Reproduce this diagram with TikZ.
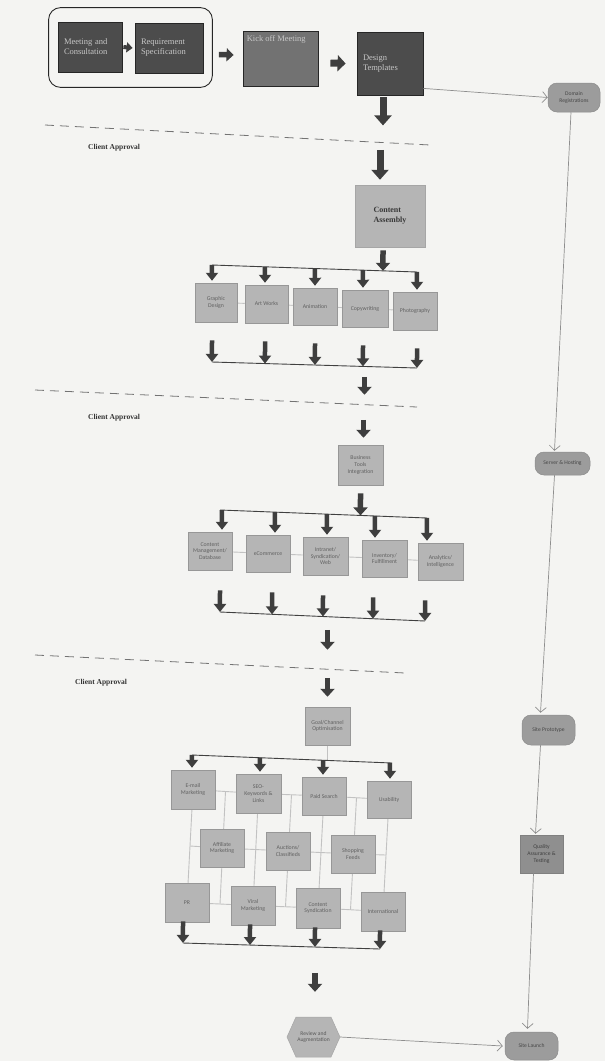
\documentclass[tikz,border=0pt]{standalone}
\usepackage{fontspec}
\setmainfont{Liberation Serif}
\newfontfamily\labelsans{Carlito}
\usetikzlibrary{arrows.meta,calc,fit,backgrounds}

\definecolor{paper}{HTML}{F4F4F2}
\definecolor{inkdark}{HTML}{3E3E3E}
\definecolor{boxdark}{HTML}{4C4C4C}
\definecolor{boxmid}{HTML}{727272}
\definecolor{boxlight}{HTML}{B5B5B5}
\definecolor{boxedge}{HTML}{979797}
\definecolor{linkgray}{HTML}{C2C2C2}
\definecolor{pillfill}{HTML}{9C9C9C}
\definecolor{flowgray}{HTML}{8E8E8E}
\definecolor{qafill}{HTML}{8F8F8F}

\tikzset{
  wh/.style 2 args={minimum width=#1, minimum height=#2},
  darkbox/.style={rectangle, draw=black!85, line width=0.8pt, fill=boxdark,
    text=black!22, font=\fontsize{8.5}{10}\selectfont, align=left, inner sep=2pt},
  stagebox/.style={rectangle, draw=black!35, line width=0.5pt, fill=boxlight,
    text=black!78, font=\bfseries\fontsize{8}{10}\selectfont, align=left, inner sep=2pt},
  task/.style={rectangle, draw=boxedge, line width=0.5pt, fill=boxlight,
    text=black!62, font=\labelsans\fontsize{5.8}{6.8}\selectfont, align=center, inner sep=1pt},
  pill/.style={rectangle, rounded corners=9pt, draw=black!45, line width=0.5pt, fill=pillfill,
    text=black!72, font=\labelsans\fontsize{5.6}{6.6}\selectfont, align=center, inner sep=1pt},
  bigarrow/.style={draw=inkdark, line width=7pt, -{Triangle[width=17pt,length=10pt]}},
  stagearrow/.style={draw=inkdark, line width=5.5pt, -{Triangle[width=14pt,length=8pt]}},
  midarrow/.style={draw=inkdark, line width=4.5pt, -{Triangle[width=12pt,length=8pt]}},
  bar/.style={draw=black!75, line width=0.9pt},
  link/.style={draw=linkgray, line width=0.9pt},
  flow/.style={draw=flowgray, line width=0.7pt, -{Straight Barb[length=5pt,width=11pt]}},
  gate/.style={draw=black!55, line width=0.8pt, dash pattern=on 9pt off 6pt},
  approval/.style={font=\bfseries\fontsize{7.5}{8}\selectfont, text=black!80, anchor=west, inner sep=0pt}
}

\begin{document}
\begin{tikzpicture}[x=1pt, y=-1pt]
\begin{scope}[on background layer]
  \fill[paper] (0,0) rectangle (605,1061);
\end{scope}
\useasboundingbox (0,0) rectangle (605,1061);

% ---------- intake and kick-off ----------
\node[darkbox, wh={64}{50}, text width=52] (meet) at (90,47) {Meeting and\\Consultation};
\node[darkbox, wh={68}{50}, text width=56] (req) at (169,48) {Requirement\\Specification};
\node[draw=black!85, line width=0.9pt, rounded corners=12pt, fit=(meet)(req),
      inner xsep=9pt, inner ysep=14pt] (intake) {};
\node[darkbox, fill=boxmid, wh={75}{55}] (kick) at (280.5,58.5) {};
\node[anchor=north west, text=black!22, font=\fontsize{8.5}{10}\selectfont, inner sep=0pt]
  (kicklbl) at ([xshift=4,yshift=-5]kick.north west) {Kick off Meeting};
\node[darkbox, wh={66}{63}, text width=54] (dt) at (390,63.5) {Design\\Templates};

\draw[draw=inkdark, line width=4pt, -{Triangle[width=10pt,length=6pt]}]
  ([xshift=1]meet.east) -- ([xshift=-2]req.west);
\draw[draw=inkdark, line width=5.5pt, -{Triangle[width=13pt,length=7pt]}]
  ([xshift=6,yshift=-7]intake.east) -- ([xshift=-9,yshift=3.5]kick.west);
\draw[draw=inkdark, line width=7pt, -{Triangle[width=16pt,length=8pt]}]
  ([xshift=12,yshift=-4.5]kick.east) -- ([xshift=-11]dt.west);

% ---------- first approval gate ----------
\coordinate (g1a) at (45,125);
\coordinate (g1b) at (430,145);
\draw[gate] (g1a) -- (g1b);
\node[approval] (ok1) at (88,148) {Client Approval};

\node[stagebox, wh={70}{62}] (ca) at (390,216) {Content\\Assembly};
\draw[bigarrow] ([xshift=-7,yshift=-2]dt.south) -- ([xshift=-7,yshift=-30]dt.south);
\draw[bigarrow] ([xshift=-10,yshift=35]ca.north) -- ([xshift=-10,yshift=5]ca.north);

% ---------- content production ----------
\node[task, wh={42}{39}] (gd) at (216,302.5) {Graphic\\Design};
\node[task, wh={43}{38}] (aw) at (266.5,304) {Art Works};
\node[task, wh={44}{37}] (an) at (315,306.5) {Animation};
\node[task, wh={46}{37}] (cw) at (365,308.5) {Copywriting};
\node[task, wh={44}{38}] (ph) at (415,311) {Photography};
\begin{scope}[on background layer]
  \draw[link] (gd) -- (aw);
  \draw[link] (aw) -- (an);
  \draw[link] (an) -- (cw);
  \draw[link] (cw) -- (ph);
\end{scope}

\coordinate (t1l) at (212,265);
\coordinate (t1r) at (417,272);
\draw[bar] (t1l) -- (t1r);
\coordinate (cap) at ([xshift=-7]ca.south);
\coordinate (caq) at ([xshift=-7,yshift=-60]ca.south);
\draw[stagearrow] ([xshift=-7,yshift=-3]ca.south) -- (intersection of t1l--t1r and cap--caq);
\foreach \n/\dx in {gd/-4, aw/-1.5, an/0, cw/-2, ph/2} {
  \coordinate (p) at ([xshift=\dx]\n.north);
  \coordinate (q) at ([xshift=\dx]\n.south);
  \draw[midarrow] (intersection of t1l--t1r and p--q) -- ([yshift=2]p);
}

\coordinate (b1l) at (212,362);
\coordinate (b1r) at (417,368);
\draw[bar] (b1l) -- (b1r);
\foreach \n/\dx in {gd/-4, aw/-1.5, an/0, cw/-2, ph/2} {
  \coordinate (p) at ([xshift=\dx]\n.north);
  \coordinate (q) at ([xshift=\dx]\n.south);
  \draw[midarrow] ([yshift=-18]q) -- (intersection of b1l--b1r and p--q);
}

% ---------- second approval gate ----------
\node[task, wh={45}{40}] (bti) at (360.5,465) {Business\\Tools\\Integration};
\draw[stagearrow] ([xshift=4,yshift=68]bti.north) -- ([xshift=4,yshift=50]bti.north);
\coordinate (g2a) at (35,390);
\coordinate (g2b) at (417,407);
\draw[gate] (g2a) -- (g2b);
\node[approval] (ok2) at (88,418) {Client Approval};
\draw[stagearrow] ([xshift=3,yshift=25]bti.north) -- ([xshift=3,yshift=7]bti.north);

% ---------- business tools ----------
\node[task, wh={44}{38}] (cm) at (210,551) {Content\\Management/\\Database};
\node[task, wh={44}{37}] (ec) at (268,553.5) {eCommerce};
\node[task, wh={45}{38}] (intra) at (325.5,556) {Intranet/\\Syndication/\\Web};
\node[task, wh={45}{37}] (iv) at (384.5,558.5) {Inventory/\\Fulfillment};
\node[task, wh={45}{37}] (anl) at (440.5,561.5) {Analytics/\\Intelligence};
\begin{scope}[on background layer]
  \draw[link] (cm) -- (ec);
  \draw[link] (ec) -- (intra);
  \draw[link] (intra) -- (iv);
  \draw[link] (iv) -- (anl);
\end{scope}

\coordinate (t2l) at (220,510);
\coordinate (t2r) at (427,518);
\draw[bar] (t2l) -- (t2r);
\draw[stagearrow] ([yshift=-8]bti.south) -- (intersection of t2l--t2r and bti.north--bti.south);
\foreach \n/\dx in {cm/12, ec/7, intra/1.5, iv/-9.5, anl/-13.5} {
  \coordinate (p) at ([xshift=\dx]\n.north);
  \coordinate (q) at ([xshift=\dx]\n.south);
  \draw[midarrow] (intersection of t2l--t2r and p--q) -- ([yshift=2]p);
}

\coordinate (b2l) at (220,612);
\coordinate (b2r) at (425,621);
\draw[bar] (b2l) -- (b2r);
\foreach \n/\dx in {cm/10, ec/4, intra/-2.5, iv/-11.5, anl/-15.5} {
  \coordinate (p) at ([xshift=\dx]\n.north);
  \coordinate (q) at ([xshift=\dx]\n.south);
  \draw[midarrow] ([yshift=-20]q) -- (intersection of b2l--b2r and p--q);
}

% ---------- third approval gate ----------
\node[task, wh={45}{38}] (goal) at (327.5,726) {Goal/Channel\\Optimisation};
\draw[stagearrow] ([yshift=77]goal.north) -- ([yshift=57]goal.north);
\coordinate (g3a) at (35,655);
\coordinate (g3b) at (405,673);
\draw[gate] (g3a) -- (g3b);
\node[approval] (ok3) at (75,683) {Client Approval};
\draw[stagearrow] ([yshift=29]goal.north) -- ([yshift=10]goal.north);

% ---------- marketing channels ----------
\node[task, wh={44}{39}] (em) at (193,789.5) {E-mail\\Marketing};
\node[task, wh={45}{39}] (seo) at (258.5,793.5) {SEO-\\Keywords \&\\Links};
\node[task, wh={44}{38}] (ps) at (324,796) {Paid Search};
\node[task, wh={44}{37}] (us) at (389,799.5) {Usability};
\node[task, wh={44}{38}] (af) at (222,848) {Affiliate\\Marketing};
\node[task, wh={44}{38}] (au) at (288,851) {Auctions/\\Classifieds};
\node[task, wh={44}{38}] (sf) at (353,854) {Shopping\\Feeds};
\node[task, wh={44}{39}] (pr) at (187,902.5) {PR};
\node[task, wh={44}{39}] (vm) at (253,905.5) {Viral\\Marketing};
\node[task, wh={44}{40}] (cs) at (318,908) {Content\\Syndication};
\node[task, wh={44}{39}] (intl) at (383,911.5) {International};

\coordinate (h1a) at ($(em.east)!0.5!(seo.west)$);
\coordinate (h1b) at ($(seo.east)!0.5!(ps.west)$);
\coordinate (h1c) at ($(ps.east)!0.5!(us.west)$);
\coordinate (h3a) at ($(pr.east)!0.5!(vm.west)$);
\coordinate (h3b) at ($(vm.east)!0.5!(cs.west)$);
\coordinate (h3c) at ($(cs.east)!0.5!(intl.west)$);
\coordinate (v1m) at ($(em.south)!0.5!(pr.north)$);
\coordinate (v7m) at ($(us.south)!0.5!(intl.north)$);
\coordinate (t3l) at (192,755);
\coordinate (t3r) at (392,763);
\begin{scope}[on background layer]
  \draw[link] (em) -- (seo);
  \draw[link] (seo) -- (ps);
  \draw[link] (ps) -- (us);
  \draw[link] (v1m) -- (af);
  \draw[link] (af) -- (au);
  \draw[link] (au) -- (sf);
  \draw[link] (sf) -- (v7m);
  \draw[link] (pr) -- (vm);
  \draw[link] (vm) -- (cs);
  \draw[link] (cs) -- (intl);
  \draw[link] (em) -- (pr);
  \draw[link] (seo) -- (vm);
  \draw[link] (ps) -- (cs);
  \draw[link] (us) -- (intl);
  \draw[link] (h1a) -- (h3a);
  \draw[link] (h1b) -- (h3b);
  \draw[link] (h1c) -- (h3c);
  \draw[link] (goal.south) -- (intersection of t3l--t3r and goal.north--goal.south);
\end{scope}

\draw[bar] (t3l) -- (t3r);
\foreach \n/\dx in {em/-1, seo/1.5, ps/-1, us/1} {
  \coordinate (p) at ([xshift=\dx]\n.north);
  \coordinate (q) at ([xshift=\dx]\n.south);
  \draw[midarrow] (intersection of t3l--t3r and p--q) -- ([yshift=2]p);
}

\coordinate (b3l) at (183,943);
\coordinate (b3r) at (380,949);
\draw[bar] (b3l) -- (b3r);
\foreach \n/\dx in {pr/-4, vm/-3, cs/-3, intl/-3} {
  \coordinate (p) at ([xshift=\dx]\n.north);
  \coordinate (q) at ([xshift=\dx]\n.south);
  \draw[midarrow] ([yshift=1]q) -- (intersection of b3l--b3r and p--q);
}

% ---------- review ----------
\path[fill=boxlight, draw=black!35, line width=0.5pt]
  (287,1037) -- (296,1017) -- (331,1017) -- (340,1037) -- (331,1057) -- (296,1057) -- cycle;
\node[font=\labelsans\fontsize{5.6}{6.6}\selectfont, text=black!65, align=center,
      wh={53}{40}, inner sep=0pt] (rev) at (313.5,1037) {Review and\\Augmentation};
\draw[stagearrow] ([xshift=1.5,yshift=44]rev.north) -- ([xshift=1.5,yshift=25]rev.north);

% ---------- site build track ----------
\node[pill, wh={52}{29}] (dom) at (574,97.5) {Domain\\Registrations};
\node[pill, wh={55}{23}] (srv) at (562.5,463.5) {Server \& Hosting};
\node[pill, wh={53}{30}] (proto) at (548.5,730) {Site Prototype};
\node[rectangle, draw=black!50, line width=0.5pt, fill=qafill, text=black!75,
      font=\labelsans\fontsize{5.6}{6.6}\selectfont, align=center, inner sep=1pt,
      wh={43}{38}] (qa) at (541.5,854) {Quality\\Assurance \&\\Testing};
\node[pill, wh={53}{28}] (launch) at (531.5,1046) {Site Launch};

\draw[flow] ([yshift=7]dt.south east) -- (dom.west);
\draw[flow] ([xshift=-3]dom.south) -- ([xshift=-8,yshift=1]srv.north);
\draw[flow] ([xshift=-8]srv.south) -- ([xshift=-8,yshift=2]proto.north);
\draw[flow] ([xshift=-8]proto.south) -- ([xshift=-6,yshift=1]qa.north);
\draw[flow] ([xshift=-8]qa.south) -- ([xshift=-4,yshift=3]launch.north);
\draw[flow] (rev.east) -- ([xshift=-2]launch.west);
\end{tikzpicture}
\end{document}
